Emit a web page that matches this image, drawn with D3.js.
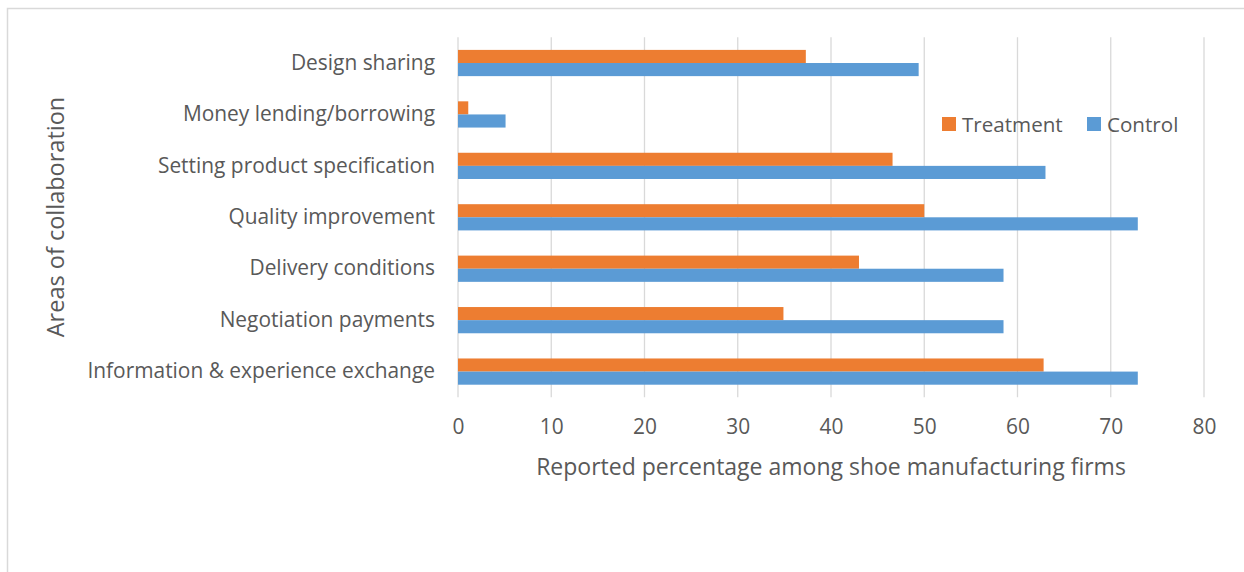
<!DOCTYPE html>
<html lang="en">
<head>
<meta charset="UTF-8">
<title>Areas of collaboration</title>
<script src="https://d3js.org/d3.v7.min.js"></script>
<style>
  body { margin: 0; background: #fff; }
  text { font-family: "Open Sans", "Noto Sans", sans-serif; fill: #595959; }
</style>
</head>
<body>
<svg id="chart"></svg>
<script>
// data, top to bottom as drawn
const categories = [
  "Design sharing",
  "Money lending/borrowing",
  "Setting product specification",
  "Quality improvement",
  "Delivery conditions",
  "Negotiation payments",
  "Information & experience exchange"
];
const treatment = [37.3, 1.1, 46.6, 50.0, 43.0, 34.9, 62.8];
const control   = [49.4, 5.1, 63.0, 72.9, 58.5, 58.5, 72.9];
const seriesNames = ["Treatment", "Control"];
const xTicks = [0, 10, 20, 30, 40, 50, 60, 70, 80];

const width = 1244, height = 572;
const colors = { Treatment: "#ED7D31", Control: "#5B9BD5" };

const svg = d3.select("#chart")
  .attr("width", width).attr("height", height);

// outer chart border (only top/left visible in frame)
svg.append("rect")
  .attr("x", 7.5).attr("y", 8.5)
  .attr("width", width + 20).attr("height", height + 20)
  .attr("fill", "none").attr("stroke", "#d9d9d9").attr("stroke-width", 1.5);

const plot = { left: 458, right: 1204, top: 37.3, bottom: 397.3 };

const x = d3.scaleLinear().domain([0, 80]).range([plot.left, plot.right]);
const y = d3.scaleBand().domain(categories).range([plot.top, plot.bottom]).paddingInner(0.49).paddingOuter(0.245);
const inner = d3.scaleBand().domain(seriesNames).range([0, y.bandwidth()]);

// gridlines
svg.append("g")
  .selectAll("line")
  .data(xTicks)
  .join("line")
  .attr("x1", d => x(d)).attr("x2", d => x(d))
  .attr("y1", plot.top).attr("y2", plot.bottom)
  .attr("stroke", "#d9d9d9").attr("stroke-width", 1.3);

// bars
const rows = categories.map((c, i) => ({ cat: c, Treatment: treatment[i], Control: control[i] }));
const groups = svg.append("g")
  .selectAll("g")
  .data(rows)
  .join("g")
  .attr("transform", d => `translate(0,${y(d.cat)})`);

groups.selectAll("rect")
  .data(d => seriesNames.map(s => ({ s, v: d[s] })))
  .join("rect")
  .attr("x", x(0))
  .attr("y", d => inner(d.s))
  .attr("width", d => x(d.v) - x(0))
  .attr("height", inner.bandwidth())
  .attr("fill", d => colors[d.s]);

// category labels
const yAxis = d3.axisLeft(y).tickSize(0).tickPadding(23);
svg.append("g")
  .attr("transform", `translate(${plot.left},0)`)
  .call(yAxis)
  .call(g => g.select(".domain").remove())
  .selectAll("text")
  .style("font-size", "20.9px")
  .attr("fill", "#595959");

// x tick labels
const xAxis = d3.axisBottom(x).tickValues(xTicks).tickSize(0).tickPadding(22);
svg.append("g")
  .attr("transform", `translate(0,${plot.bottom})`)
  .call(xAxis)
  .call(g => g.select(".domain").remove())
  .selectAll("text")
  .style("font-size", "20.9px")
  .attr("fill", "#595959");

// axis titles
svg.append("text")
  .attr("x", 831).attr("y", 475)
  .attr("text-anchor", "middle")
  .style("font-size", "23px")
  .text("Reported percentage among shoe manufacturing firms");

svg.append("text")
  .attr("transform", "translate(64,217) rotate(-90)")
  .attr("text-anchor", "middle")
  .style("font-size", "23.5px")
  .text("Areas of collaboration");

// legend
const legend = svg.append("g").attr("transform", "translate(942,117)");
const legendX = [0, 145];
seriesNames.forEach((s, i) => {
  const g = legend.append("g").attr("transform", `translate(${legendX[i]},0)`);
  g.append("rect").attr("width", 14).attr("height", 14).attr("fill", colors[s]);
  g.append("text").attr("x", 20).attr("y", 14.5).style("font-size", "20.6px").text(s);
});
</script>
</body>
</html>
